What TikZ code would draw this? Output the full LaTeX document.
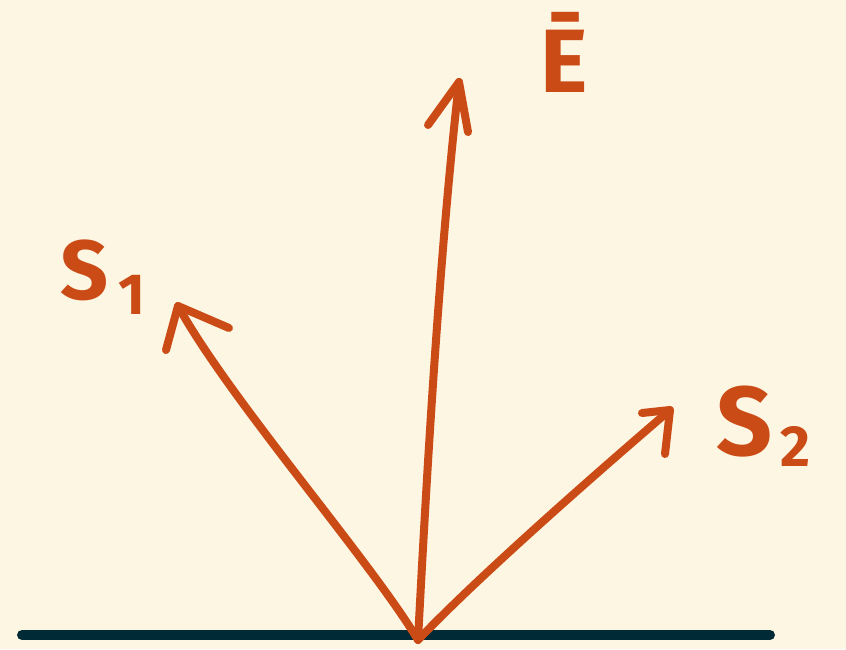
\documentclass[tikz,border=0pt]{standalone}
\usepackage{fontspec}
\setmainfont{Fira Sans}
\definecolor{bgc}{HTML}{FDF6E3}
\definecolor{orng}{HTML}{CB4B16}
\definecolor{dark}{HTML}{002B36}
\begin{document}
\begin{tikzpicture}[x=1pt,y=-1pt,
  vec/.style={draw=orng,line width=8pt,line cap=round,line join=round},
  barb/.style={draw=orng,line width=8pt,line cap=round,line join=round},
  lbl/.style={text=orng,font=\bfseries\fontsize{84}{84}\selectfont,inner sep=0pt},
  sub/.style={text=orng,font=\bfseries\fontsize{58}{58}\selectfont,inner sep=0pt}]
\fill[bgc] (0,0) rectangle (846,649);
\useasboundingbox (0,0) rectangle (846,649);
% ground line
\coordinate (gl) at (22,635);
\coordinate (gr) at (770,635);
\draw[dark,line width=10pt,line cap=round] (gl) -- (gr);
% origin and tips
\coordinate (O) at (418,640);
\coordinate (tE) at (459,82);
\coordinate (tS1) at (178,306);
\coordinate (tS2) at (670,410);
% barbs
\coordinate (eL) at (428,125);
\coordinate (eR) at (468,132);
\coordinate (s1L) at (166,350);
\coordinate (s1R) at (229,328);
\coordinate (s2L) at (642,413);
\coordinate (s2R) at (665,454);
% shafts
\draw[vec] (O) .. controls (428,450) and (440,250) .. (tE);
\draw[vec] (O) .. controls (370,560) and (230,400) .. (tS1);
\draw[vec] (O) .. controls (480,575) and (600,470) .. (tS2);
% heads
\draw[barb] (eL) -- (tE) -- (eR);
\draw[barb] (s1L) -- (tS1) -- (s1R);
\draw[barb] (s2L) -- (tS2) -- (s2R);
% labels
\node[lbl,anchor=base west] (S1) at (60,299) {S};
\node[sub,anchor=base west] (n1) at (118,314) {1};
\node[lbl,anchor=base west,font=\bfseries\fontsize{90}{90}\selectfont] (E) at (540,92) {\=E};
\node[lbl,anchor=base west,font=\bfseries\fontsize{98}{98}\selectfont] (S2) at (716,455) {S};
\node[sub,anchor=base west] (n2) at (780,466) {2};
\end{tikzpicture}
\end{document}
